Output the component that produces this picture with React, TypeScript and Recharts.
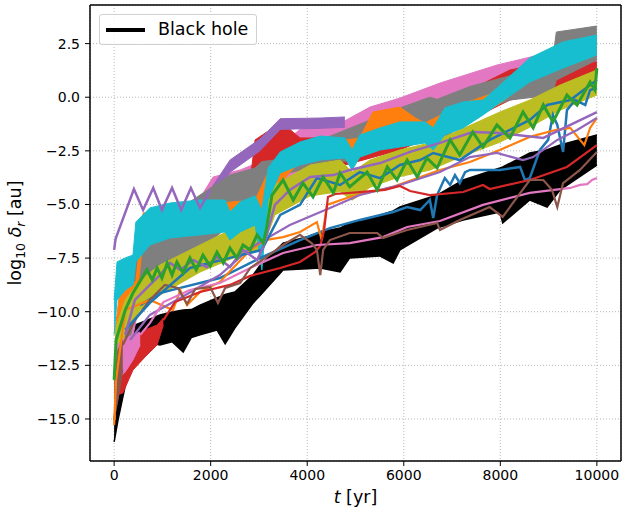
import React from "react";
import {
  Area,
  CartesianGrid,
  ComposedChart,
  Label,
  Line,
  ReferenceLine,
  XAxis,
  YAxis,
} from "recharts";

type Pt = [number, number];
type Env = [number, number, number];

const FONT = "'DejaVu Sans', sans-serif";

const xTicks = [0, 2000, 4000, 6000, 8000, 10000];
const yTicks = [-15, -12.5, -10, -7.5, -5, -2.5, 0, 2.5];

// fast-oscillating runs are kept as [t, low, high] envelopes
const blackHole: Env[] = [
  [0, -16.07, -15.05], [80, -15.05, -12.72], [430, -11.32, -10.62], [950, -11.55, -10.15],
  [1200, -11.4, -10.01], [1430, -11.88, -9.92], [1600, -11.2, -9.9], [1780, -11.08, -9.69],
  [2130, -10.85, -9.36], [2300, -11.5, -9.2], [2500, -10.76, -9.08], [2880, -9.59, -8.29],
  [3000, -9.3, -7.9], [3500, -8.05, -6.8], [4000, -8.0, -6.5], [4270, -7.96, -6.28],
  [4680, -8.15, -6.1], [4880, -7.49, -5.86], [5500, -7.4, -5.5], [5780, -7.73, -5.3],
  [5920, -7.12, -5.12], [6690, -6.1, -4.56], [7230, -5.72, -3.86], [7990, -5.35, -3.3],
  [8050, -5.86, -3.25], [8610, -4.79, -2.6], [8970, -5.12, -2.45], [9240, -4.32, -2.23],
  [10000, -3.16, -1.76],
];

const pinkBand: Env[] = [
  [60, -12.72, -10.85], [330, -11.78, -9.45], [540, -9.45, -6.89], [1160, -7.82, -5.96],
  [1780, -6.66, -4.7], [2050, -5.96, -3.72], [2610, -5.26, -3.39], [3020, -4.79, -3.02],
  [3850, -3.63, -1.5], [4780, -2.93, -1.1], [5300, -2.23, -0.46], [5920, -1.76, -0.04],
  [6750, -1.06, 0.66], [7930, -0.13, 1.5], [8970, 0.57, 2.06], [9160, 0.34, 1.64],
  [10000, 0.9, 1.97],
];

const redBand: Env[] = [
  [540, -8.05, -6.89], [950, -7.12, -5.96], [1370, -6.66, -5.72], [1780, -5.96, -4.79],
  [2610, -5.26, -4.23], [2820, -5.02, -3.86], [2920, -3.63, -1.99], [3380, -2.93, -1.29],
  [3640, -2.93, -1.5], [3850, -3.0, -1.9], [4470, -2.93, -1.9], [4780, -3.16, -1.99],
  [5920, -2.46, -1.06], [7160, -1.29, 0.1], [8200, -0.13, 1.27], [9240, 0.34, 1.74],
  [10000, 0.57, 1.64],
];

const purpleBand: Env[] = [
  [1990, -4.9, -4.32], [2400, -3.5, -2.93], [3020, -2.5, -1.95], [3440, -1.5, -1.0],
  [4270, -1.45, -0.97], [4780, -1.4, -0.92],
];

const grayBand: Env[] = [
  [60, -14.12, -10.85], [540, -8.99, -6.66], [1160, -8.05, -5.49], [1780, -7.12, -4.56],
  [2400, -5.96, -3.63], [2920, -4.79, -3.3], [3060, -5.49, -3.0], [3440, -3.63, -2.9],
  [3850, -3.4, -2.6], [4270, -3.16, -2.0], [4930, -2.93, -1.4], [5920, -1.99, -0.5],
  [6540, -1.99, 0.0], [6690, -2.3, -0.1], [7370, -0.83, 0.5], [8200, -0.13, 1.0],
  [9070, 0.1, 1.5], [9160, 0.8, 3.04], [10000, 1.74, 3.32],
];

const orangeBand: Env[] = [
  [20, -15.05, -10.85], [120, -10.6, -9.0], [230, -10.2, -8.7], [450, -9.8, -8.6],
  [600, -6.6, -5.4], [1780, -6.2, -5.0], [2920, -5.7, -4.8], [3190, -4.6, -3.5],
  [3850, -3.0, -2.3], [4780, -2.7, -2.0], [5090, -2.6, -1.9], [5360, -1.76, -0.69],
  [5920, -1.53, -0.46], [6240, -1.99, -0.97], [6440, -2.0, -1.2], [7230, -1.3, -0.3],
  [7990, -0.3, 0.3], [8610, 0.8, 1.6], [9090, 1.3, 2.2], [10000, 2.0, 2.6],
];

const oliveBand: Env[] = [
  [20, -13.65, -10.85], [230, -10.85, -9.45], [540, -9.92, -8.52], [950, -9.22, -7.82],
  [1780, -8.15, -6.89], [2610, -7.36, -5.96], [3060, -7.12, -5.63], [3330, -5.49, -4.09],
  [4060, -4.6, -3.16], [4680, -4.4, -2.93], [4930, -4.8, -3.49], [5300, -4.2, -2.93],
  [5920, -3.7, -2.46], [6540, -3.4, -2.13], [7160, -2.8, -1.53], [7990, -2.1, -0.69],
  [8610, -1.4, -0.13], [9240, -0.6, 0.57], [10000, 0.1, 1.27],
];

const cyanBand: Env[] = [
  [0, -11.08, -9.45], [60, -9.45, -7.68], [230, -8.99, -7.49], [390, -8.75, -7.36],
  [450, -7.68, -5.82], [740, -6.89, -5.16], [1160, -6.56, -4.93], [1780, -6.42, -4.79],
  [2300, -6.28, -4.79], [2400, -6.66, -5.35], [2610, -6.28, -4.88], [2920, -5.96, -4.6],
  [3060, -8.05, -5.26], [3190, -4.79, -3.3], [3440, -3.53, -2.55], [3850, -3.16, -2.09],
  [4270, -2.93, -1.81], [4780, -2.83, -1.9], [4930, -3.39, -2.46], [5090, -2.79, -1.76],
  [5510, -2.46, -1.43], [5920, -2.32, -1.15], [6440, -2.13, -1.15], [6610, -2.46, -1.43],
  [6850, -1.76, -0.5], [7230, -1.43, -0.22], [7640, -0.83, -0.13], [7930, -0.36, 0.43],
  [8610, 0.71, 1.83], [9300, 1.36, 2.58], [10000, 1.97, 2.9],
];

// early, fast-wiggling start of the thin lines
const redThinEarly: Env[] = [
  [60, -13.88, -12.25], [180, -13.79, -11.78], [390, -12.72, -11.32], [640, -12.11, -10.85],
  [890, -11.55, -10.62], [1020, -10.62, -10.29],
];
const pinkThinEarly: Env[] = [
  [60, -13.18, -11.55], [230, -12.81, -11.23], [390, -12.25, -11.08], [540, -11.55, -10.94],
];
const brownThinEarly: Env[] = [
  [0, -15.05, -13.18], [80, -14.12, -11.78], [180, -12.72, -11.32],
];

// plain lines, [t, log10 delta_r]
const blueLow: Pt[] = [
  [540, -9.69], [950, -9.13], [1370, -8.89], [2190, -8.43], [3020, -7.5], [3850, -6.66],
  [4470, -6.1], [5090, -5.72], [5780, -5.35], [6070, -5.12], [6340, -5.26], [6540, -4.79],
  [6610, -5.63], [6690, -4.56], [6850, -3.77], [6960, -4.09], [7060, -3.63], [7160, -4.0],
  [7270, -3.49], [7370, -3.39], [7990, -3.39], [8410, -3.25], [8510, -3.86], [8610, -3.77],
  [8820, -2.46], [8990, -1.99], [9090, -0.83], [9180, -1.29], [9300, -2.55], [9380, -0.6],
  [9550, -0.13], [9760, -0.36], [9860, 0.34], [10000, 0.43],
];

const orangeThin: Pt[] = [
  [0, -15.28], [40, -13.18], [230, -9.92], [740, -9.45], [1220, -9.92], [1370, -8.99],
  [1510, -9.69], [1780, -9.08], [2190, -8.61], [2820, -7.12], [3130, -6.66], [3500, -6.52],
  [3850, -6.28], [4200, -5.82], [4300, -6.66], [4410, -5.02], [4880, -4.65], [5780, -4.18],
  [6750, -3.39], [7370, -3.02], [7990, -2.46], [8610, -1.85], [9140, -1.53], [9450, -1.43],
  [9650, -1.99], [9740, -2.23], [9860, -1.43], [10000, -0.97],
];

const purpleThin: Pt[] = [
  [330, -11.32], [740, -10.15], [1370, -9.36], [2190, -8.29], [2820, -7.03], [3640, -5.96],
  [4470, -5.16], [5090, -4.56], [5920, -4.09], [6750, -3.49], [7370, -2.79], [7930, -2.6],
  [8470, -2.93], [8680, -2.79], [9180, -1.99], [9590, -1.53], [10000, -0.97],
];

const redThin: Pt[] = [
  [1020, -10.39], [1260, -9.55], [1780, -9.08], [2400, -8.75], [2820, -8.33], [3440, -7.96],
  [3850, -7.68], [4160, -7.22], [4270, -6.94], [4350, -6.19], [4430, -4.65], [4580, -4.51],
  [5090, -4.42], [5610, -4.32], [5920, -4.14], [6130, -4.37], [6540, -4.56], [7230, -4.42],
  [7640, -4.09], [7780, -4.28], [8610, -3.86], [9380, -3.25], [10000, -2.23],
];

const pinkThin: Pt[] = [
  [540, -11.08], [740, -10.53], [1020, -9.55], [1570, -8.99], [2190, -8.66], [2820, -7.96],
  [3500, -7.26], [4200, -6.89], [4880, -6.8], [5570, -6.52], [6070, -6.05], [6750, -5.77],
  [7640, -5.02], [8610, -4.46], [9450, -4.23], [9650, -4.09], [9800, -4.05], [9900, -3.86],
  [10000, -3.77],
];

const brownThin: Pt[] = [
  [180, -11.55], [430, -10.39], [740, -9.45], [1050, -8.75], [1320, -8.89], [1510, -9.64],
  [1680, -8.94], [1990, -8.85], [2150, -9.59], [2300, -8.89], [2610, -8.66], [2820, -7.96],
  [3130, -7.49], [3500, -6.89], [3850, -6.42], [4090, -6.8], [4200, -7.12], [4270, -8.29],
  [4330, -7.12], [4470, -6.66], [4880, -6.33], [5450, -6.33], [5570, -6.56], [6070, -6.19],
  [6690, -5.86], [6750, -6.19], [7160, -5.72], [7780, -5.12], [8050, -5.58], [8610, -3.86],
  [8890, -3.86], [9070, -4.32], [9180, -5.12], [9300, -4.0], [9650, -3.39], [10000, -2.55],
];

const blueWavy: Pt[] = [
  [230, -10.85], [740, -9.59], [1570, -7.96], [2400, -7.49], [3060, -7.12], [3440, -5.49],
  [3850, -5.02], [4200, -3.77], [4680, -4.09], [5090, -3.49], [5510, -3.77], [5920, -3.16],
  [6340, -2.93], [6610, -2.6], [7160, -2.93], [7780, -1.99], [8610, -1.06], [8970, -0.36],
  [9450, -0.13], [10000, 0.8],
];

const purpleWavy: Pt[] = [
  [230, -11.08], [430, -9.45], [740, -8.75], [950, -8.29], [1160, -7.73], [1370, -8.05],
  [1640, -7.59], [1920, -7.92], [2130, -7.45], [2400, -7.92], [2670, -7.12], [2960, -7.59],
  [3090, -6.98], [3330, -5.02], [3640, -4.32], [4060, -3.72], [4540, -3.63], [4880, -3.39],
  [5510, -3.07], [6130, -2.55], [6750, -2.13], [7430, -1.62], [7990, -1.67], [8890, -1.9],
  [9450, -1.29], [10000, -0.69],
];

const purpleEarly: Pt[] = [
  [0, -7.12], [30, -6.6], [410, -4.28], [600, -5.26], [810, -4.23], [990, -5.26],
  [1200, -4.23], [1390, -5.26], [1590, -4.23], [1780, -5.16], [1990, -4.32],
];

const greenWavy: Pt[] = [
  [0, -13.18], [40, -11.32], [230, -9.92], [390, -9.13], [680, -8.05], [790, -8.52],
  [890, -7.96], [990, -8.43], [1100, -7.73], [1200, -8.29], [1300, -7.68], [1430, -8.19],
  [1570, -7.49], [1700, -8.05], [1840, -7.36], [1990, -7.87], [2130, -7.22], [2260, -7.73],
  [2400, -7.03], [2540, -7.49], [2670, -6.89], [2820, -7.12], [2960, -6.42], [3090, -6.8],
  [3150, -6.19], [3270, -4.56], [3500, -3.86], [3710, -4.79], [3910, -4.0], [4120, -4.65],
  [4330, -3.72], [4540, -4.46], [4680, -3.53], [4880, -4.18], [5240, -3.49], [5450, -4.32],
  [5660, -3.25], [5860, -3.86], [6070, -2.93], [6280, -3.72], [6480, -2.83], [6690, -3.3],
  [6960, -1.99], [7160, -2.69], [7430, -1.62], [7640, -2.32], [7930, -1.29], [8200, -1.9],
  [8470, -0.69], [8680, -1.43], [8890, -0.36], [9090, -1.15], [9380, 0.1], [9590, -0.36],
  [9860, 0.71], [9960, 0.34], [10000, 1.36],
];

const bands = [
  { key: "black", pts: blackHole, color: "#000000", edge: 1.5 },
  { key: "pinkB", pts: pinkBand, color: "#e377c2", edge: 1 },
  { key: "redB", pts: redBand, color: "#d62728", edge: 1 },
  { key: "purpleB", pts: purpleBand, color: "#9467bd", edge: 1 },
  { key: "grayB", pts: grayBand, color: "#7f7f7f", edge: 1 },
  { key: "orangeB", pts: orangeBand, color: "#ff7f0e", edge: 1 },
  { key: "oliveB", pts: oliveBand, color: "#bcbd22", edge: 1 },
  { key: "cyanB", pts: cyanBand, color: "#17becf", edge: 1 },
  { key: "redE", pts: redThinEarly, color: "#d62728", edge: 1 },
  { key: "pinkE", pts: pinkThinEarly, color: "#e377c2", edge: 1 },
  { key: "brownE", pts: brownThinEarly, color: "#8c564b", edge: 1 },
];

const lines = [
  { key: "blueLow", pts: blueLow, color: "#1f77b4", width: 2.5 },
  { key: "orangeThin", pts: orangeThin, color: "#ff7f0e", width: 2.2 },
  { key: "purpleThin", pts: purpleThin, color: "#9467bd", width: 2.2 },
  { key: "redThin", pts: redThin, color: "#d62728", width: 2.2 },
  { key: "pinkThin", pts: pinkThin, color: "#e377c2", width: 2.2 },
  { key: "brownThin", pts: brownThin, color: "#8c564b", width: 2.2 },
  { key: "blueWavy", pts: blueWavy, color: "#1f77b4", width: 2.5 },
  { key: "purpleWavy", pts: purpleWavy, color: "#9467bd", width: 2.5 },
  { key: "purpleEarly", pts: purpleEarly, color: "#9467bd", width: 2.5 },
  { key: "greenWavy", pts: greenWavy, color: "#2ca02c", width: 3 },
];

// one row per time stamp, each series fills only its own samples
const rowMap = new Map<number, Record<string, any>>();
const rowAt = (t: number) => {
  let r = rowMap.get(t);
  if (!r) {
    r = { t };
    rowMap.set(t, r);
  }
  return r;
};
bands.forEach((s) => s.pts.forEach(([t, lo, hi]) => { rowAt(t)[s.key] = [lo, hi]; }));
lines.forEach((s) => s.pts.forEach(([t, v]) => { rowAt(t)[s.key] = v; }));
const data = Array.from(rowMap.values()).sort((a, b) => a.t - b.t);

const fmtY = (v: number) => v.toFixed(1).replace("-", "\u2212");

function XTitle(props: any) {
  const vb = props.viewBox;
  if (!vb) return null;
  return (
    <text
      x={vb.x + vb.width / 2}
      y={vb.y + 42}
      textAnchor="middle"
      fontSize={17.5}
      fontFamily={FONT}
      fill="#000"
    >
      <tspan fontStyle="italic">t</tspan>
      <tspan> [yr]</tspan>
    </text>
  );
}

function YTitle(props: any) {
  const vb = props.viewBox;
  if (!vb) return null;
  const x = 21;
  const cy = vb.y + vb.height / 2;
  return (
    <text
      x={x}
      y={cy}
      transform={`rotate(-90, ${x}, ${cy})`}
      textAnchor="middle"
      fontSize={17.5}
      fontFamily={FONT}
      fill="#000"
    >
      <tspan>log</tspan>
      <tspan fontSize={12.5} dy={4}>10</tspan>
      <tspan dy={-4} fontStyle="italic"> δ</tspan>
      <tspan fontSize={12.5} dy={4} fontStyle="italic">r</tspan>
      <tspan dy={-4}> [au]</tspan>
    </text>
  );
}

export default function App() {
  return (
    <div
      style={{
        position: "absolute",
        left: 0,
        top: 0,
        width: 622,
        height: 509,
        background: "#fff",
      }}
    >
      <ComposedChart
        width={622}
        height={509}
        data={data}
        margin={{ top: 5, right: 1, left: 0, bottom: 0 }}
      >
        <CartesianGrid stroke="#b0b0b0" strokeDasharray="1 2" strokeWidth={0.9} />
        <XAxis
          dataKey="t"
          type="number"
          domain={[-500, 10500]}
          ticks={xTicks}
          interval={0}
          allowDataOverflow
          height={48}
          tickSize={5}
          tickMargin={4}
          axisLine={{ stroke: "#000", strokeWidth: 1.5 }}
          tickLine={{ stroke: "#000" }}
          tick={{ fontSize: 14, fill: "#000", fontFamily: FONT }}
          label={<Label content={<XTitle />} />}
        />
        <YAxis
          type="number"
          domain={[-16.96, 4.3]}
          ticks={yTicks}
          interval={0}
          allowDataOverflow
          width={90}
          tickSize={5}
          tickMargin={5}
          tickFormatter={fmtY}
          axisLine={{ stroke: "#000", strokeWidth: 1.5 }}
          tickLine={{ stroke: "#000" }}
          tick={{ fontSize: 14, fill: "#000", fontFamily: FONT }}
          label={<Label content={<YTitle />} />}
        />
        {bands.map((b) => (
          <Area
            key={b.key}
            dataKey={b.key}
            type="linear"
            stroke={b.color}
            strokeWidth={b.edge}
            fill={b.color}
            fillOpacity={1}
            connectNulls
            dot={false}
            activeDot={false}
            isAnimationActive={false}
          />
        ))}
        {lines.map((l) => (
          <Line
            key={l.key}
            dataKey={l.key}
            type="linear"
            stroke={l.color}
            strokeWidth={l.width}
            connectNulls
            dot={false}
            activeDot={false}
            isAnimationActive={false}
          />
        ))}
        <ReferenceLine y={4.3} stroke="#000" strokeWidth={1.5} />
        <ReferenceLine x={10500} stroke="#000" strokeWidth={1.5} />
      </ComposedChart>
      <div
        style={{
          position: "absolute",
          left: 99,
          top: 14,
          width: 158,
          height: 31,
          boxSizing: "border-box",
          border: "1px solid #d0d0d0",
          borderRadius: 3,
          background: "rgba(255,255,255,0.8)",
          fontFamily: FONT,
        }}
      >
        <div
          style={{
            position: "absolute",
            left: 6,
            top: 13,
            width: 39,
            height: 4,
            background: "#000",
          }}
        />
        <div
          style={{
            position: "absolute",
            left: 58,
            top: 3,
            fontSize: 17.5,
            lineHeight: "22px",
            color: "#000",
          }}
        >
          Black hole
        </div>
      </div>
    </div>
  );
}
